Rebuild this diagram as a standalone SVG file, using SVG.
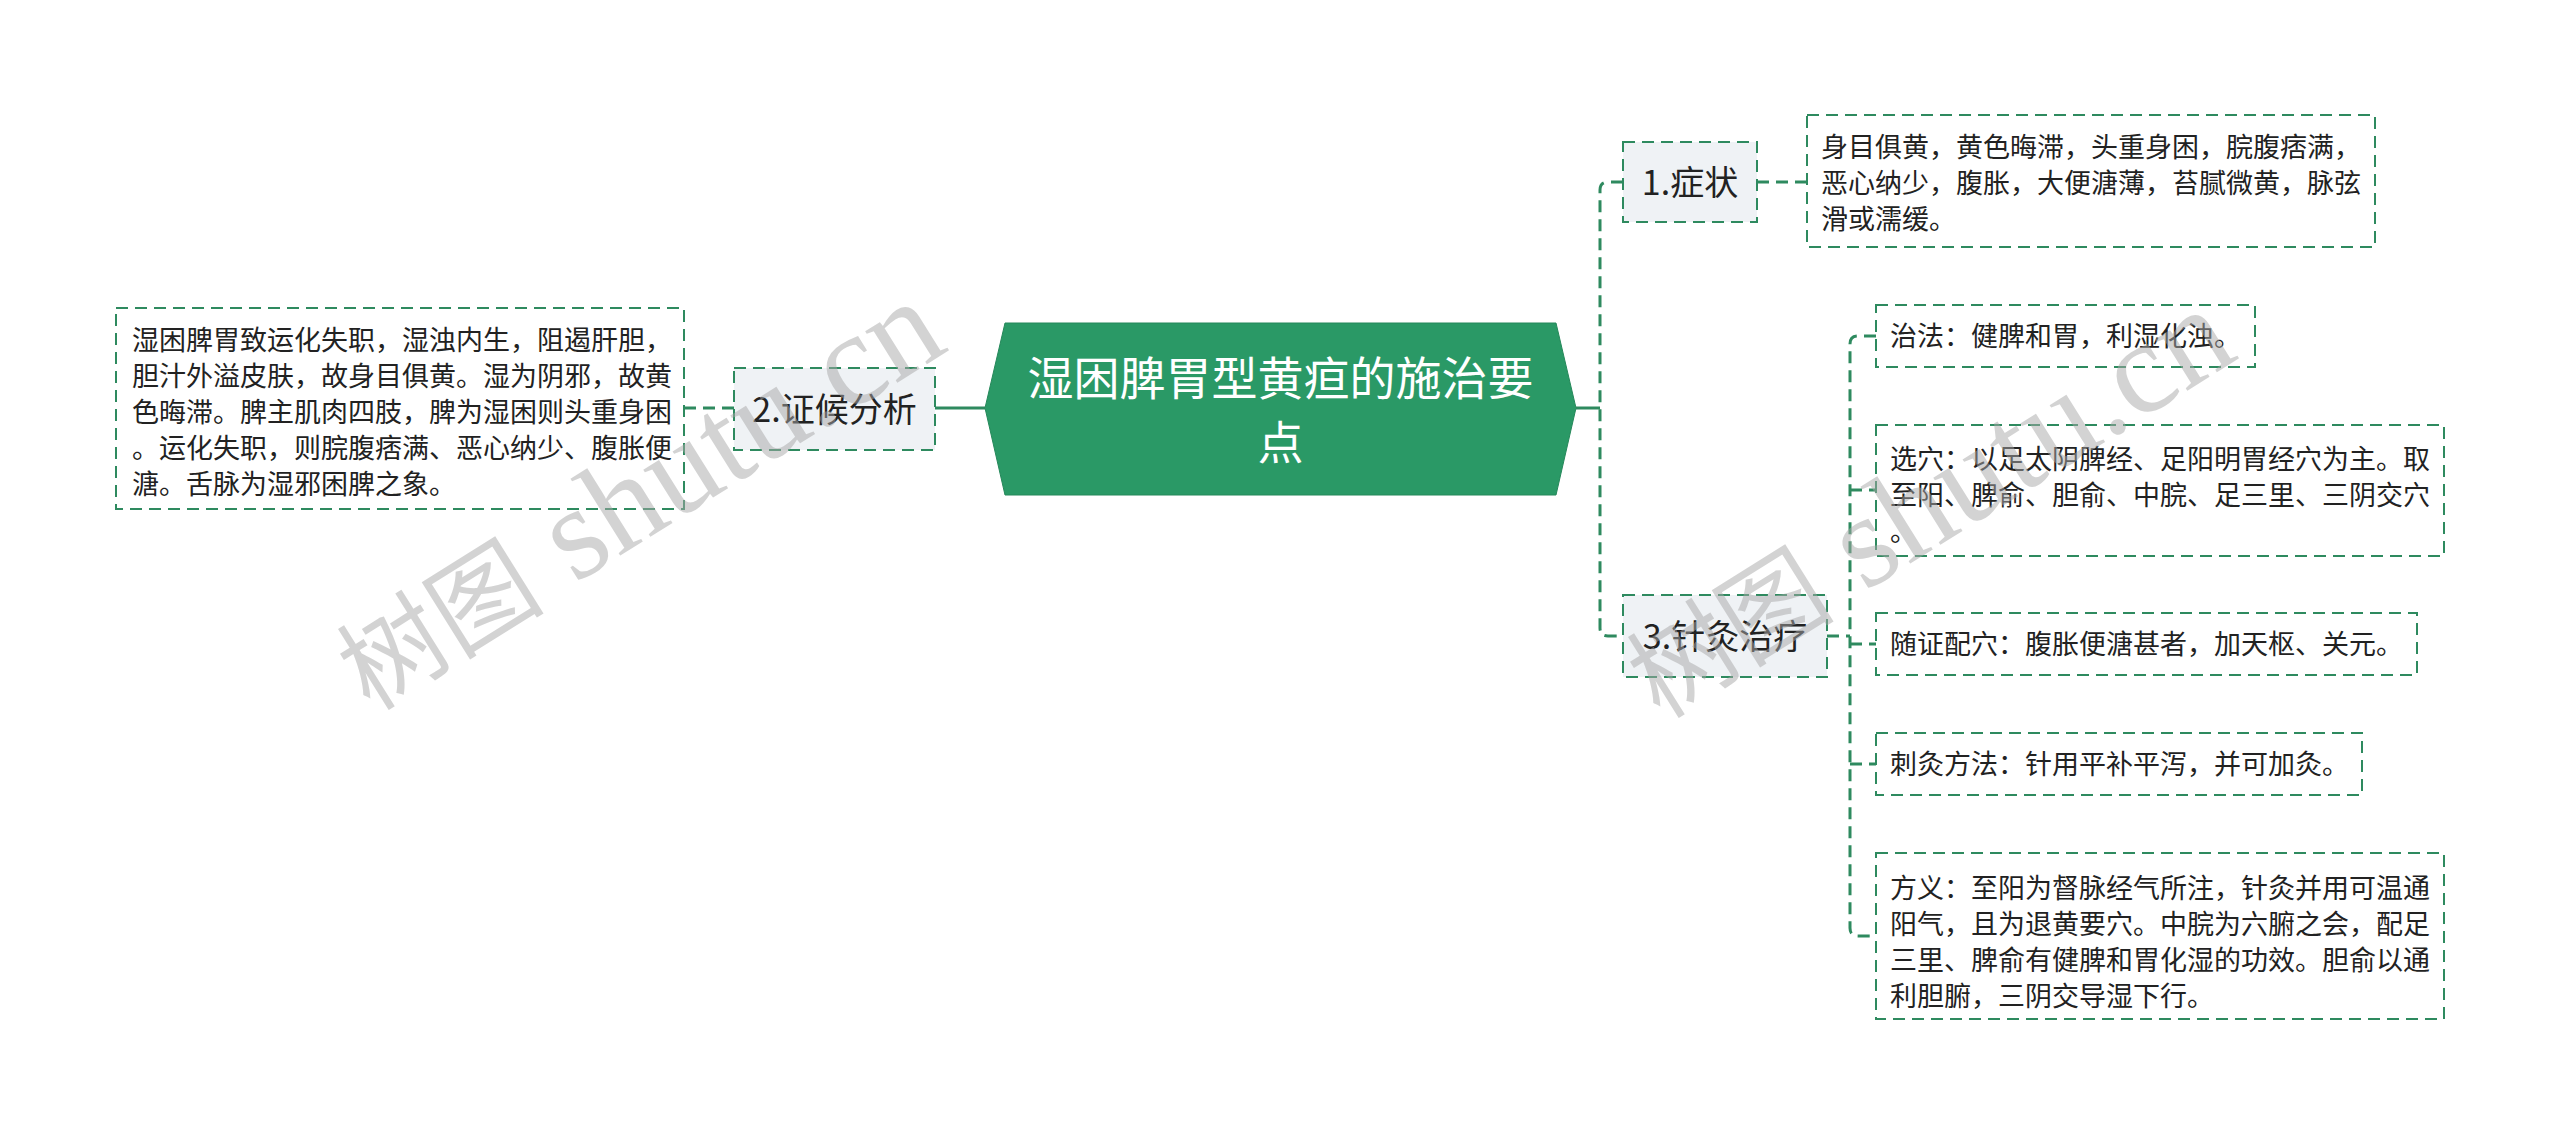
<svg xmlns="http://www.w3.org/2000/svg" width="2560" height="1135" viewBox="0 0 2560 1135">
<style>
.bg{fill:#ffffff}
.box{fill:#ffffff;stroke:#2e8a5f;stroke-width:2;stroke-dasharray:12 7}
.sub{fill:#eff2f5;stroke:#2e8a5f;stroke-width:2;stroke-dasharray:12 7}
.dl{fill:none;stroke:#2e8a5f;stroke-width:3;stroke-dasharray:12 7}
.sl{fill:none;stroke:#2e8a5f;stroke-width:3}
.t{font-family:"Noto Sans CJK SC","Noto Sans",sans-serif;font-size:27px;fill:#222222}
.st{font-family:"Noto Sans CJK SC","Noto Sans",sans-serif;font-size:34px;fill:#222222}
.ct{font-family:"Noto Sans CJK SC","Noto Sans",sans-serif;font-size:46px;fill:#ffffff}
.wm{font-family:"Liberation Serif","Noto Sans CJK SC",serif;fill:#a8a8a8;opacity:0.5}
</style>
<rect class="bg" x="0" y="0" width="2560" height="1135"/>
<g id="connectors">
<line class="sl" x1="985" y1="408" x2="935" y2="408"/>
<line class="dl" x1="734" y1="408" x2="684" y2="408"/>
<line class="sl" x1="1576" y1="408" x2="1600" y2="408"/>
<path class="dl" d="M1623 182 H1608 Q1600 182 1600 190 V628 Q1600 636 1608 636 H1623"/>
<line class="dl" x1="1757" y1="182" x2="1807" y2="182"/>
<line class="dl" x1="1827" y1="636" x2="1850" y2="636"/>
<path class="dl" d="M1876 336 H1858 Q1850 336 1850 344 V928 Q1850 936 1858 936 H1876"/>
<line class="dl" x1="1850" y1="490" x2="1876" y2="490"/>
<line class="dl" x1="1850" y1="644" x2="1876" y2="644"/>
<line class="dl" x1="1850" y1="764" x2="1876" y2="764"/>
</g>
<g id="root">
<polygon points="1005,323 1556,323 1576,408 1556,495 1005,495 985,408" fill="#2a9966" stroke="#25885a" stroke-width="1"/>
<text class="ct" x="1280.5" y="395" text-anchor="middle">湿困脾胃型黄疸的施治要</text>
<text class="ct" x="1280.5" y="459" text-anchor="middle">点</text>
</g>
<g id="n2">
<rect class="sub" x="734" y="368" width="201" height="82"/>
<text class="st" x="834.5" y="422" text-anchor="middle">2.证候分析</text>
</g>
<g id="n2a">
<rect class="box" x="116" y="308" width="568" height="201"/>
<text class="t" x="132" y="350">湿困脾胃致运化失职，湿浊内生，阻遏肝胆，</text>
<text class="t" x="132" y="386">胆汁外溢皮肤，故身目俱黄。湿为阴邪，故黄</text>
<text class="t" x="132" y="422">色晦滞。脾主肌肉四肢，脾为湿困则头重身困</text>
<text class="t" x="132" y="458">。运化失职，则脘腹痞满、恶心纳少、腹胀便</text>
<text class="t" x="132" y="494">溏。舌脉为湿邪困脾之象。</text>
</g>
<g id="n1">
<rect class="sub" x="1623" y="142" width="134" height="80"/>
<text class="st" x="1690" y="195" text-anchor="middle">1.症状</text>
</g>
<g id="n1a">
<rect class="box" x="1807" y="115" width="568" height="132"/>
<text class="t" x="1821" y="157">身目俱黄，黄色晦滞，头重身困，脘腹痞满，</text>
<text class="t" x="1821" y="193">恶心纳少，腹胀，大便溏薄，苔腻微黄，脉弦</text>
<text class="t" x="1821" y="229">滑或濡缓。</text>
</g>
<g id="n3">
<rect class="sub" x="1623" y="595" width="204" height="82"/>
<text class="st" x="1725" y="649" text-anchor="middle">3.针灸治疗</text>
</g>
<g id="n3a">
<rect class="box" x="1876" y="305" width="379" height="62"/>
<text class="t" x="1890" y="346">治法：健脾和胃，利湿化浊。</text>
</g>
<g id="n3b">
<rect class="box" x="1876" y="425" width="568" height="131"/>
<text class="t" x="1890" y="469">选穴：以足太阴脾经、足阳明胃经穴为主。取</text>
<text class="t" x="1890" y="505">至阳、脾俞、胆俞、中脘、足三里、三阴交穴</text>
<text class="t" x="1890" y="541">。</text>
</g>
<g id="n3c">
<rect class="box" x="1876" y="613" width="541" height="62"/>
<text class="t" x="1890" y="654">随证配穴：腹胀便溏甚者，加天枢、关元。</text>
</g>
<g id="n3d">
<rect class="box" x="1876" y="733" width="486" height="62"/>
<text class="t" x="1890" y="774">刺灸方法：针用平补平泻，并可加灸。</text>
</g>
<g id="n3e">
<rect class="box" x="1876" y="853" width="568" height="166"/>
<text class="t" x="1890" y="898">方义：至阳为督脉经气所注，针灸并用可温通</text>
<text class="t" x="1890" y="934">阳气，且为退黄要穴。中脘为六腑之会，配足</text>
<text class="t" x="1890" y="970">三里、脾俞有健脾和胃化湿的功效。胆俞以通</text>
<text class="t" x="1890" y="1006">利胆腑，三阴交导湿下行。</text>
</g>
<g id="watermarks">
<text class="wm" x="370" y="712" transform="rotate(-32 370 712)"><tspan font-size="104">树图</tspan><tspan font-size="132"> shutu.cn</tspan></text>
<text class="wm" x="1660" y="720" transform="rotate(-32 1660 720)"><tspan font-size="104">树图</tspan><tspan font-size="132"> shutu.cn</tspan></text>
</g>
</svg>
